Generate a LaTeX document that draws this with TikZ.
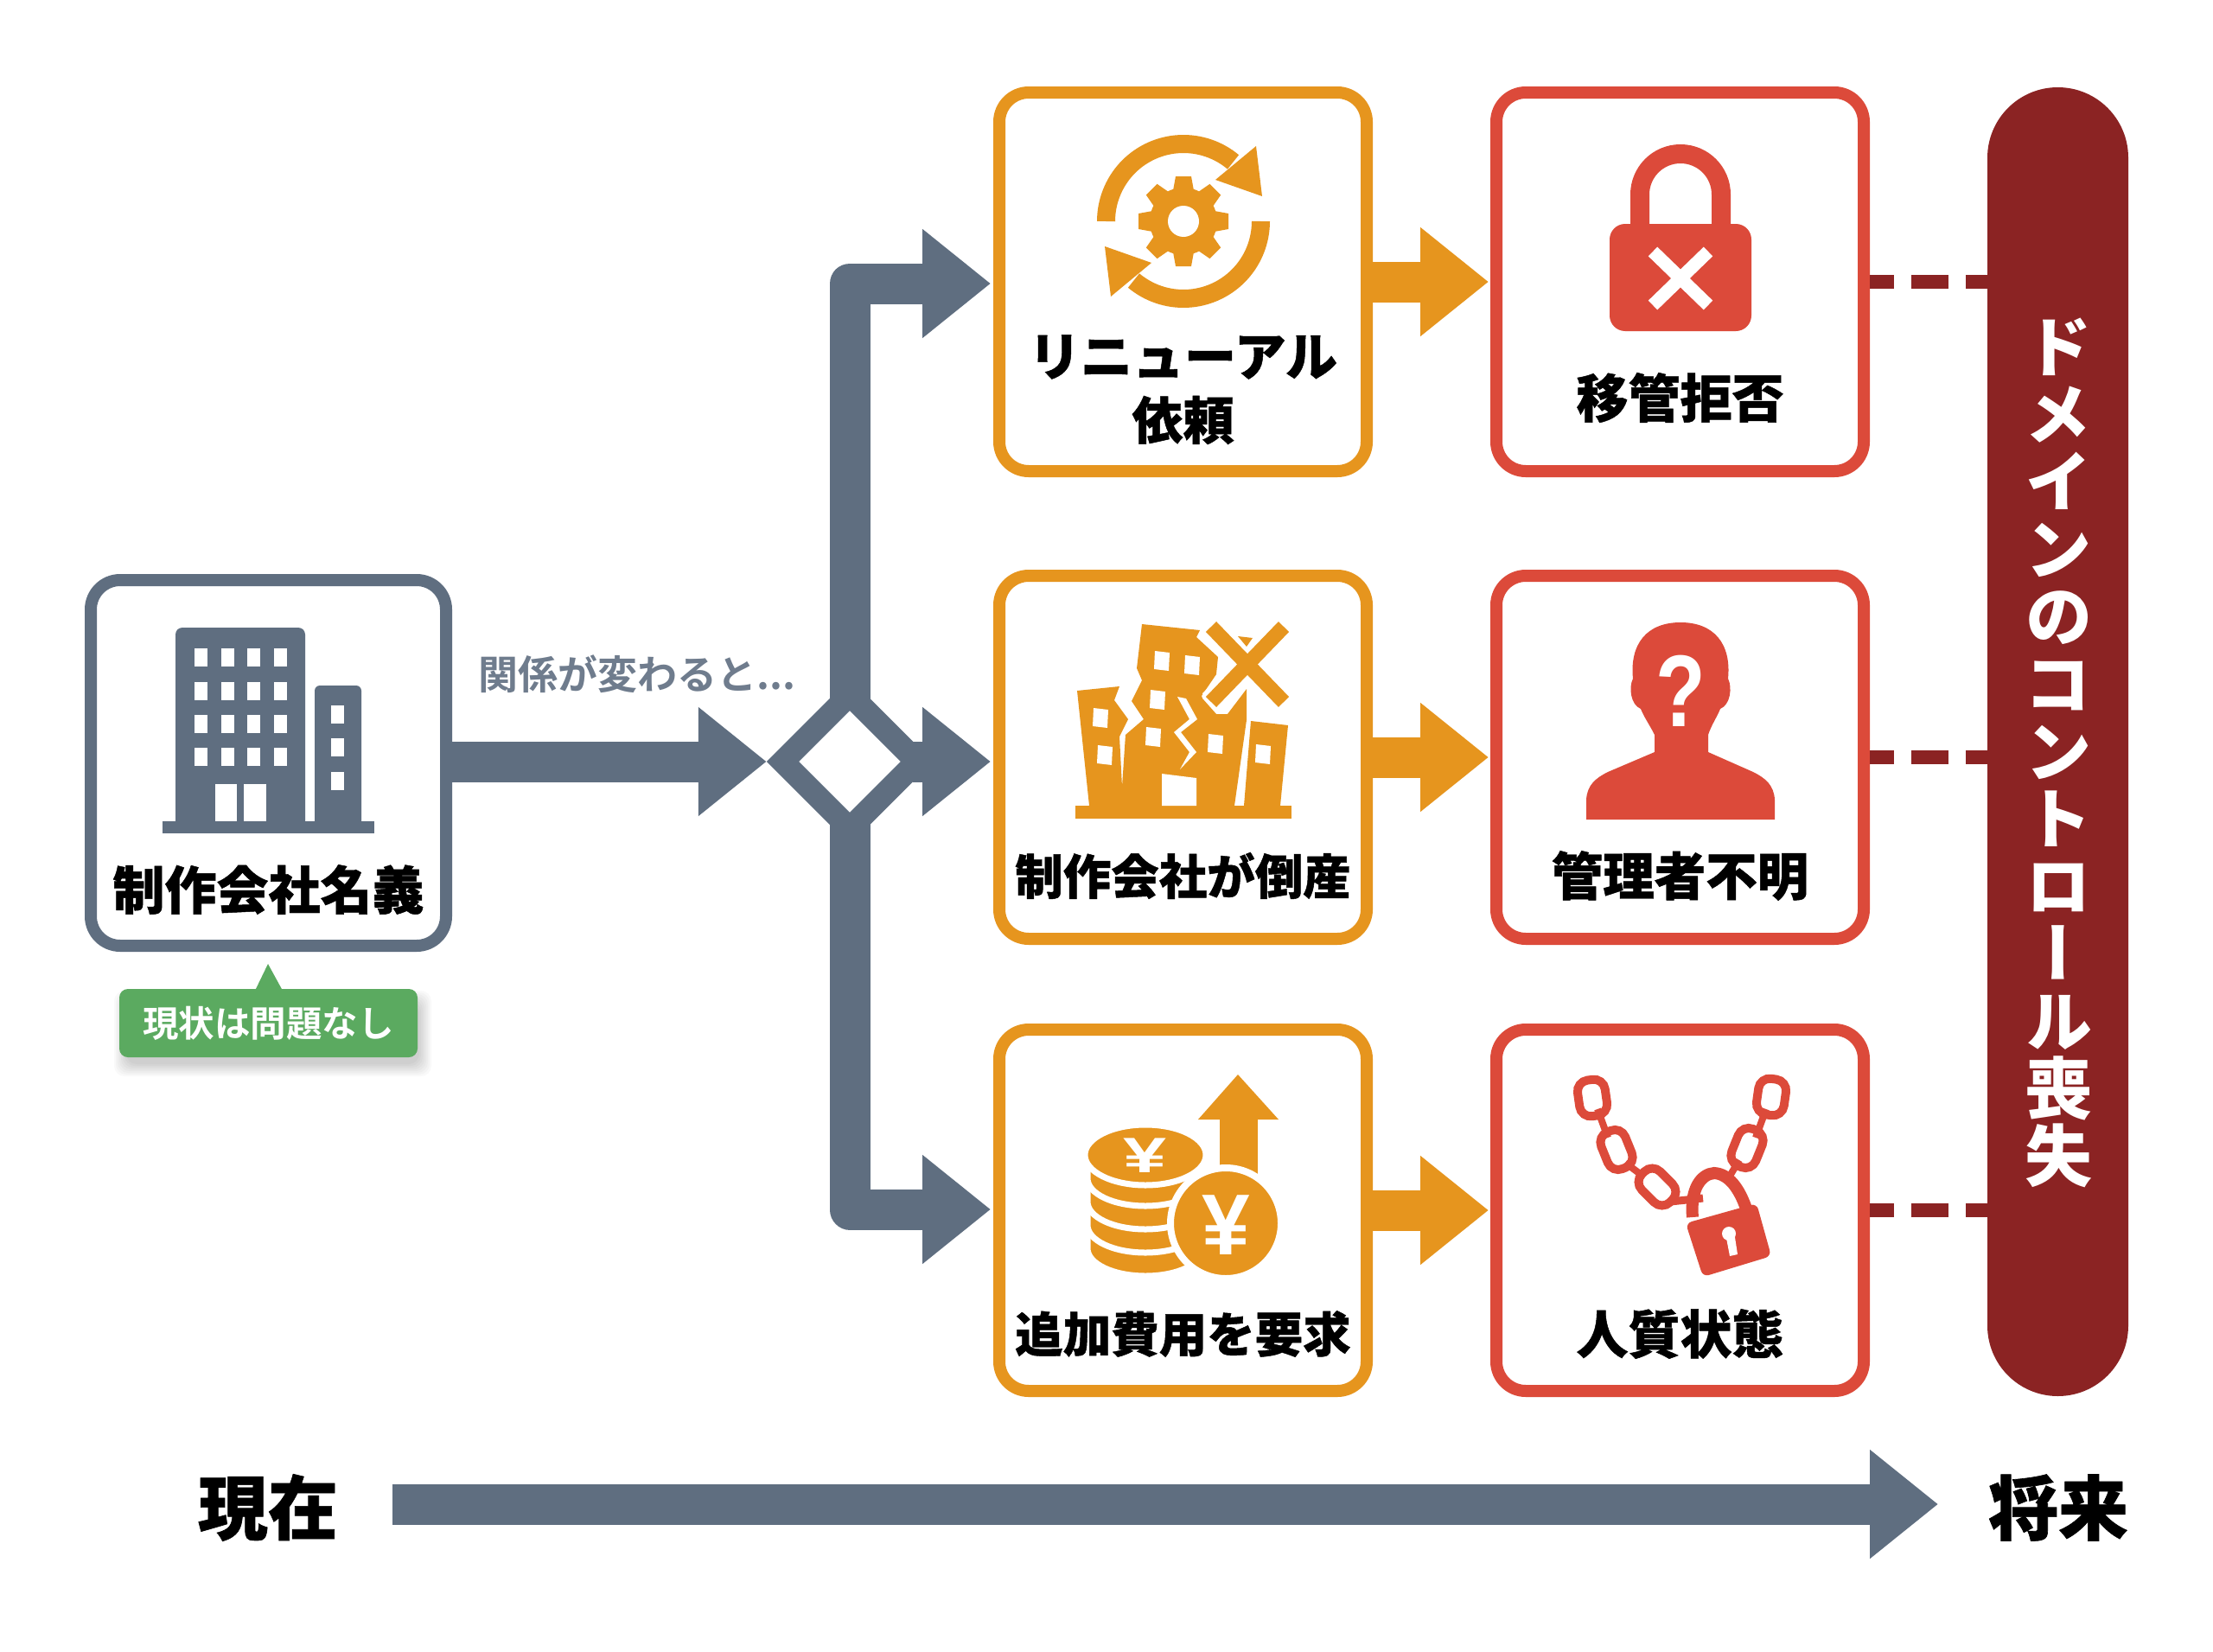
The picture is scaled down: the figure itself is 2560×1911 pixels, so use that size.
\documentclass[tikz,border=0pt]{standalone}
\usepackage{fontspec}
\usetikzlibrary{arrows.meta,shapes.geometric}
\newfontfamily\jpb{Noto Sans CJK JP Black}[FakeBold=0.8]
\newfontfamily\jpm{Noto Sans CJK JP Bold}
\newfontfamily\jpv{Noto Sans CJK JP Black}[RawFeature=+vert]
\newfontfamily\lsb{Liberation Sans Bold}
\definecolor{slate}{HTML}{5F6E80}
\definecolor{amber}{HTML}{E6951E}
\definecolor{alarm}{HTML}{DC4A3A}
\definecolor{wine}{HTML}{8B2323}
\definecolor{okgreen}{HTML}{5BAA60}
\newcommand{\ts}[1]{\fontsize{#1}{#1}\selectfont}
\newcommand{\coinband}[1]{\draw[white,line width=7pt,fill=amber] (1258,#1-20) -- (1258,#1) .. controls (1258,#1+18) and (1288,#1+32) .. (1325,#1+32) .. controls (1362,#1+32) and (1392,#1+18) .. (1392,#1) -- (1392,#1-20) -- cycle;}
\newcommand{\chainlink}[5]{\begin{scope}[shift={(#1,#2)},rotate=#3]\draw[alarm,line width=10pt,rounded corners=13pt] (-#5,-#4) rectangle (#5,#4);\end{scope}}
\tikzset{
  card/.style={draw=#1,line width=14pt,rounded corners=34pt,fill=white,inner sep=0pt},
  title/.style={font=\jpb\ts{#1},text=black,inner sep=0pt},
  bigarrow/.style={#1,line width=47pt,-{Triangle[length=79pt,width=121pt]}},
  bothways/.style={#1,line width=47pt,{Triangle[length=79pt,width=121pt]}-{Triangle[length=79pt,width=121pt]}},
  windowpane/.style={fill=white,draw=none},
  lossdash/.style={wine,line width=16pt,dash pattern=on 28pt off 20pt on 43pt off 20pt on 40pt off 0pt},
}
\begin{document}
\begin{tikzpicture}[x=1pt,y=-1pt]
\useasboundingbox (0,0) rectangle (2560,1911);
\fill[white] (0,0) rectangle (2560,1911);
% cards
\node[card=slate,minimum width=411pt,minimum height=423pt] (own) at (310.5,882.5) {};
\node[card=amber,minimum width=425pt,minimum height=438pt] (o1) at (1368.5,326) {};
\node[card=amber,minimum width=425pt,minimum height=420pt] (o2) at (1368.5,876) {};
\node[card=amber,minimum width=425pt,minimum height=418pt] (o3) at (1368.5,1400) {};
\node[card=alarm,minimum width=425pt,minimum height=438pt] (r1) at (1943.5,326) {};
\node[card=alarm,minimum width=425pt,minimum height=420pt] (r2) at (1943.5,876) {};
\node[card=alarm,minimum width=425pt,minimum height=418pt] (r3) at (1943.5,1400) {};
\node[draw=none,fill=wine,rounded corners=81.5pt,minimum width=163pt,minimum height=1514pt,inner sep=0pt] (pill) at (2380.5,858) {};
% titles
\node[title=60] (t0) at (310.5,1029) {制作会社名義};
\node[title=60] (t1a) at (1368.5,413) {リニューアル};
\node[title=59] (t1b) at (1368.5,486) {依頼};
\node[title=60] (t2) at (1943.5,460) {移管拒否};
\node[title=55.5] (t3) at (1368.5,1013) {制作会社が倒産};
\node[title=59.5] (t4) at (1943.5,1013) {管理者不明};
\node[title=55.5] (t5) at (1368.5,1543) {追加費用を要求};
\node[title=60] (t6) at (1943.5,1543) {人質状態};
\node[font=\jpv\ts{78},text=white,align=center,inner sep=0pt] (vt) at (2381,871) {ド\\[0pt]メ\\イ\\ン\\の\\コ\\ン\\ト\\ロ\\ー\\ル\\喪\\失};
\node[font=\jpm\ts{46},text=slate!90!white,inner sep=0pt] (rel) at (737,780) {関係が変わると...};
\node[font=\jpb\ts{81},text=black,inner sep=0pt] (now) at (310,1744) {現在};
\node[font=\jpb\ts{81},text=black,inner sep=0pt] (fut) at (2381,1744) {将来};
% callout
\foreach \g in {12,10,...,-2}{\fill[black,opacity=.025,rounded corners=12pt] (138+6-\g,1144+14-\g) rectangle (483+4+\g,1223+10+\g);}
\fill[okgreen] (295,1146) -- (310,1115) -- (327,1146) -- cycle;
\node[fill=okgreen,rounded corners=10pt,minimum width=345pt,minimum height=79pt,inner sep=0pt,font=\jpm\ts{41.5},text=white] (ok) at (310.5,1183.5) {現状は問題なし};
% branch
\coordinate (j1) at (983,328);
\coordinate (j3) at (983,1399);
\coordinate (a1) at (o1.west |- j1);
\coordinate (a3) at (o3.west |- j3);
\draw[bothways=slate,line join=round,shorten <=3pt,shorten >=3pt] (a1) -- (j1) -- (j3) -- (a3);
\node[diamond,aspect=1,draw=slate,fill=white,line width=26.5pt,minimum width=166pt,minimum height=166pt,inner sep=0pt] (dia) at (983,881) {};
\coordinate (d0) at (own.east |- dia);
\draw[bigarrow=slate] (d0) -- (dia.west);
\coordinate (a2) at (o2.west |- dia);
\coordinate (d2) at (1056,881);
\draw[bigarrow=slate,shorten >=3pt] (d2) -- (a2);
% amber arrows
\draw[bigarrow=amber,shorten >=2pt] (o1.east) -- (r1.west);
\draw[bigarrow=amber,shorten >=2pt] (o2.east) -- (r2.west);
\draw[bigarrow=amber,shorten >=2pt] (o3.east) -- (r3.west);
% dashes
\draw[lossdash] (r1.east) -- (pill.west |- r1.east);
\draw[lossdash] (r2.east) -- (pill.west |- r2.east);
\draw[lossdash] (r3.east) -- (pill.west |- r3.east);
% timeline
\coordinate (tl) at (454,1740);
\coordinate (tr) at (2242,1740);
\draw[bigarrow=slate] (tl) -- (tr);
% building icon
\fill[slate,rounded corners=8pt] (203,960) -- (203,726) -- (353,726) -- (353,960) -- cycle;
\fill[slate,rounded corners=6pt] (364,960) -- (364,793) -- (418,793) -- (418,960) -- cycle;
\fill[slate] (188,950) rectangle (433,964);
\foreach \x in {225,256,286,317}\foreach \y in {750,789,827,865}{\fill[white] (\x,\y) rectangle (\x+15,\y+21);}
\foreach \y in {816,854,893}{\fill[white] (383,\y) rectangle (398,\y+21);}
\fill[white] (249,907) rectangle (274,950);
\fill[white] (282,907) rectangle (308,950);
% gear icon
\begin{scope}[shift={(1369,256)}]
\foreach \a in {0,45,...,315}{\begin{scope}[rotate=\a]\fill[amber] (-9,-52) -- (9,-52) -- (13,-30) -- (-13,-30) -- cycle;\end{scope}}
\fill[amber] (0,0) circle[radius=39pt];
\fill[white] (0,0) circle[radius=18pt];
\foreach \r in {0,180}{\begin{scope}[rotate=\r]
\draw[amber,line width=21pt,domain=180:50,samples=50] plot ({89.5*cos(\x)},{-89.5*sin(\x)});
\fill[amber] (84,-87) -- (91,-29) -- (37,-48) -- cycle;
\end{scope}}
\end{scope}
% padlock x
\fill[alarm,rounded corners=18pt] (1862,259) rectangle (2026,383);
\draw[alarm,line width=22pt] (1897,265) -- (1897,225) .. controls (1897,199) and (1918,178) .. (1944,178) .. controls (1970,178) and (1991,199) .. (1991,225) -- (1991,265);
\draw[white,line width=15pt] (1912,291) -- (1976,353);
\draw[white,line width=15pt] (1976,291) -- (1912,353);
% collapsed building
\fill[amber] (1244,932) rectangle (1494,947);
\fill[amber] (1246,799) -- (1295,794) -- (1289,810) -- (1305,832) -- (1295,852) -- (1298,910) -- (1298,932) -- (1260,932) -- cycle;
\fill[amber] (1321,722) -- (1388,729) -- (1384,737) -- (1409,760) -- (1407,780) -- (1390,805) -- (1391,808) -- (1407,826) -- (1420,826) -- (1442,797) -- (1442,833) -- (1428,932) -- (1298,932) -- (1298,910) -- (1302,850) -- (1323,832) -- (1309,811) -- (1321,787) -- (1315,773) -- cycle;
\fill[amber] (1447,834) -- (1490,839) -- (1481,932) -- (1439,932) -- cycle;
\fill[white] (1362,806) -- (1372,808) -- (1385,832) -- (1366,847) -- (1384,870) -- (1365,890) -- (1376,870) -- (1358,847) -- (1376,832) -- cycle;
\fill[white] (1344,895) -- (1384,900) -- (1384,932) -- (1344,932) -- cycle;
\foreach \x/\y in {1336/753,1371/758,1331/798,1326/841,1398/849,1265/819,1270/862,1453/861}{\fill[windowpane] (\x,\y) -- (\x+17,\y+2) -- (\x+16,\y+23) -- (\x-1,\y+21) -- cycle;}
\draw[white,line width=28pt] (1401,725) -- (1485,812);
\draw[white,line width=28pt] (1485,725) -- (1401,812);
\fill[amber] (1432,736) -- (1449,738) -- (1442,748) -- cycle;
\draw[amber,line width=17pt] (1401,725) -- (1485,812);
\draw[amber,line width=17pt] (1485,725) -- (1401,812);
% person
\fill[alarm] (1835,948) -- (1835,925) .. controls (1836,908) and (1846,900) .. (1860,893) -- (1914,870) -- (1914,850) .. controls (1908,838) and (1902,830) .. (1898,820) .. controls (1886,815) and (1884,795) .. (1889,785) .. controls (1885,745) and (1905,720) .. (1944,720) .. controls (1983,720) and (2003,745) .. (1999,785) .. controls (2004,795) and (2002,815) .. (1990,820) .. controls (1986,830) and (1980,838) .. (1976,850) -- (1976,870) -- (2028,893) .. controls (2042,900) and (2052,908) .. (2053,925) -- (2053,948) -- cycle;
\node[font=\lsb\ts{118},text=white,inner sep=0pt,xscale=.8] (qm) at (1944,799) {?};
% coins
\fill[amber] (1411,1295) rectangle (1455,1360);
\fill[amber] (1386,1295) -- (1432,1243) -- (1479,1295) -- cycle;
\foreach \k in {1444,1417,1390,1363}{\coinband{\k}}
\fill[amber,draw=white,line width=7pt] (1325,1336) ellipse[x radius=70pt,y radius=35pt];
\fill[amber,draw=white,line width=8pt] (1418,1415) circle[radius=64pt];
\node[font=\lsb\ts{90},text=white,inner sep=0pt,yscale=.64] (yen1) at (1325,1337) {¥};
\node[font=\lsb\ts{100},text=white,inner sep=0pt] (yen2) at (1418,1417) {¥};
% chain
\chainlink{1842}{1270}{8}{21}{16}
\chainlink{1870}{1330}{22}{23}{15}
\chainlink{1917}{1373}{45}{23}{15}
\chainlink{2049}{1269}{-8}{21}{16}
\chainlink{2021}{1328}{-22}{23}{15}
\draw[alarm,line width=8pt] (1848,1283) -- (1860,1316);
\draw[alarm,line width=8pt] (1880,1345) -- (1900,1360);
\draw[alarm,line width=8pt] (2043,1283) -- (2031,1316);
\draw[alarm,line width=9pt] (1932,1390) -- (1970,1386);
\draw[alarm,line width=8pt] (2012,1342) -- (2000,1362);
\draw[alarm,line width=14pt] (1958,1408) .. controls (1955,1375) and (1968,1358) .. (1983,1357) .. controls (2000,1358) and (2012,1375) .. (2020,1398);
\fill[alarm,rounded corners=7pt] (1950,1415) -- (2032,1392) -- (2049,1453) -- (1970,1477) -- cycle;
\fill[white] (2000,1427) circle[radius=8pt];
\fill[white] (1996,1427) -- (2006,1425) -- (2010,1451) -- (2001,1453) -- cycle;
\end{tikzpicture}
\end{document}
